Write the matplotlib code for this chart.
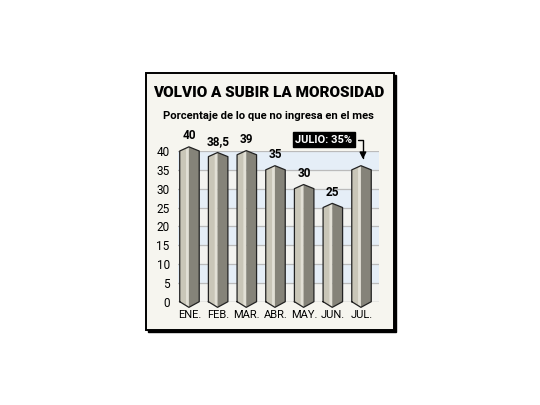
"""Bar chart: VOLVIO A SUBIR LA MOROSIDAD (prism-style bars)."""

import matplotlib
matplotlib.use("Agg")
import matplotlib.pyplot as plt
from matplotlib.patches import Rectangle

months = ["ENE.", "FEB.", "MAR.", "ABR.", "MAY.", "JUN.", "JUL."]
values = [40, 38.5, 39, 35, 30, 25, 35]
value_labels = ["40", "38,5", "39", "35", "30", "25", ""]
y_ticks = [0, 5, 10, 15, 20, 25, 30, 35, 40]
blue_bands = [(5, 10), (15, 20), (25, 30), (35, 40)]

title = "VOLVIO A SUBIR LA MOROSIDAD"
subtitle = "Porcentaje de lo que no ingresa en el mes"
callout = "JULIO: 35%"

plt.rcParams["font.family"] = ["Roboto", "DejaVu Sans"]

fig = plt.figure(figsize=(5.4, 4.05), dpi=100)
fig.patch.set_facecolor("white")

# frame with drop shadow
fx0, fy0, fx1, fy1 = 146 / 540, 1 - 330 / 405, 394 / 540, 1 - 73 / 405
fig.patches.append(Rectangle((fx0 + 2 / 540, fy0 - 2 / 405), fx1 - fx0, fy1 - fy0,
                             transform=fig.transFigure, fc="black", ec="black", lw=1, zorder=0))
fig.patches.append(Rectangle((fx0, fy0), fx1 - fx0, fy1 - fy0,
                             transform=fig.transFigure, fc="#F6F5EF", ec="black", lw=1.4, zorder=1))

fig.text(0.497, 0.770, title, ha="center", va="center", fontsize=11, fontweight="heavy", zorder=3)
fig.text(0.497, 0.7136, subtitle, ha="center", va="center", fontsize=8.1, fontweight="bold", zorder=3)

ax = fig.add_axes([178 / 540, 1 - 301.7 / 405, 201 / 540, 150.7 / 405])
ax.set_zorder(2)
ax.set_facecolor("#F3F3F0")
for lo, hi in blue_bands:
    ax.axhspan(lo, hi, color="#E5EEF7", zorder=0)
for t in y_ticks:
    ax.axhline(t, color="#BBBBBB" if t else "#888888", lw=0.9, zorder=1)

ax.set_xlim(-0.4, 6.61)
ax.set_ylim(0, 40)
for s in ax.spines.values():
    s.set_visible(False)

half = 0.34
top_h = 1.1
bot_h = 1.5
for i, v in enumerate(values):
    s = i - 0.02
    left = [(i - half, 0), (i - half, v), (s, v + top_h), (s, -bot_h)]
    right = [(s, -bot_h), (s, v + top_h), (i + half, v), (i + half, 0)]
    stripe = [(s - 0.1, -bot_h + 0.3), (s - 0.1, v + top_h - 0.3), (s, v + top_h), (s, -bot_h)]
    ax.fill(*zip(*left), fc="#C9C6B8", ec="none", zorder=3, clip_on=False)
    ax.fill(*zip(*stripe), fc="#E2E0D6", ec="none", zorder=3, clip_on=False)
    ax.fill(*zip(*right), fc="#858379", ec="none", zorder=3, clip_on=False)
    outline = [(i - half, 0), (i - half, v), (s, v + top_h), (i + half, v),
               (i + half, 0), (s, -bot_h), (i - half, 0)]
    ax.plot(*zip(*outline), color="#222222", lw=0.9, zorder=4, clip_on=False)
    if value_labels[i]:
        ax.annotate(value_labels[i], (i, v), xytext=(0, 11), textcoords="offset points",
                    ha="center", va="center", fontsize=8.5, fontweight="bold")

ax.annotate(callout, xy=(6.05, 37.1), xytext=(4.69, 43.0), ha="center", va="center",
            fontsize=8, fontweight="bold", color="white",
            bbox=dict(boxstyle="square,pad=0.2", fc="black", ec="black"),
            arrowprops=dict(arrowstyle="-|>", color="black", lw=1.0, mutation_scale=10,
                            connectionstyle="angle,angleA=0,angleB=90,rad=0"),
            annotation_clip=False, zorder=5)

ax.set_yticks(y_ticks)
ax.set_yticklabels([str(t) for t in y_ticks], fontsize=8.5)
ax.set_xticks(range(len(months)))
ax.set_xticklabels(months, fontsize=8)
ax.tick_params(axis="both", length=0)
ax.tick_params(axis="y", pad=6)
ax.tick_params(axis="x", pad=6)

fig.savefig("out.png", dpi=100)
